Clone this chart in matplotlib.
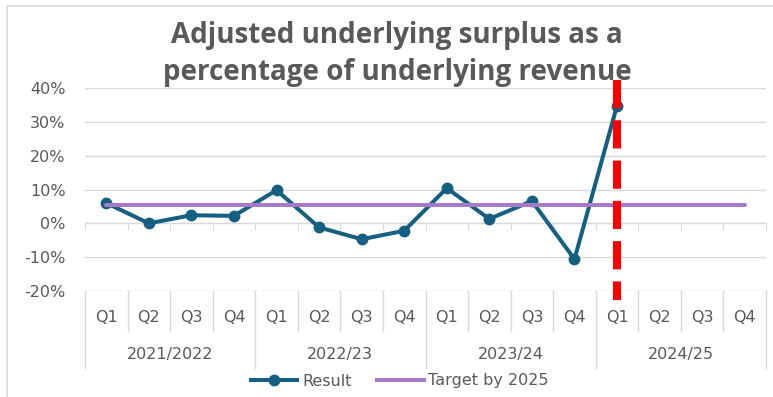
import matplotlib
matplotlib.use("Agg")
import matplotlib.pyplot as plt
from matplotlib.lines import Line2D
from matplotlib.patches import Rectangle
import matplotlib.transforms as mtransforms

# quarterly results, as fractions of underlying revenue
years = ["2021/2022", "2022/23", "2023/24", "2024/25"]
quarters = ["Q1", "Q2", "Q3", "Q4"]
result = [0.06, 0.0, 0.024, 0.022,
          0.098, -0.012, -0.047, -0.022,
          0.104, 0.013, 0.066, -0.106,
          0.348]
target = 0.053
yticks = [-0.2, -0.1, 0.0, 0.1, 0.2, 0.3, 0.4]
# dashed marker at the start of 2024/25
marker_idx = 12
marker_span = (0.425, -0.226)

text_col = "#595959"
grid_col = "#D9D9D9"
plt.rcParams['font.family'] = ['DejaVu Sans']

W, H = 773, 397
fig = plt.figure(figsize=(W / 100, H / 100), dpi=100)
ax = fig.add_axes([85 / W, (H - 291) / H, (766 - 85) / W, (291 - 88) / H])

labels = [q for y in years for q in quarters]
n = len(labels)
x = list(range(n))

ax.plot(x[:len(result)], result, color="#156082", lw=2.9, marker="o",
        ms=7.5, zorder=3, clip_on=False)
ax.plot(x, [target] * n, color="#A57BC8", lw=2.9, zorder=4,
        solid_capstyle="round")
ax.plot([marker_idx, marker_idx], marker_span, color="#FF0000", lw=5.8,
        dashes=(3.5, 1.5), zorder=5, clip_on=False)

ax.set_xlim(-0.5, n - 0.5)
ax.set_ylim(yticks[0], yticks[-1])
ax.set_yticks(yticks)
ax.set_yticklabels([f"{int(round(v * 100))}%" for v in yticks])
ax.yaxis.grid(True, color=grid_col, lw=1)
ax.set_axisbelow(True)
ax.tick_params(axis="y", length=0, labelsize=11.5, labelcolor=text_col, pad=14)

# category axis sits at zero, labels are drawn underneath the plot
for s in ["left", "right", "top"]:
    ax.spines[s].set_visible(False)
ax.spines["bottom"].set_position(("data", 0))
ax.spines["bottom"].set_color(grid_col)
ax.set_xticks([i - 0.5 for i in range(n + 1)])
ax.tick_params(axis="x", direction="out", length=5, color=grid_col,
               labelbottom=False)

trans = mtransforms.blended_transform_factory(ax.transData, ax.transAxes)
ah = 291 - 88
for i, lab in enumerate(labels):
    ax.text(i, -(317 - 291) / ah, lab, transform=trans, ha="center",
            va="center", fontsize=11.5, color=text_col)
for i in range(n + 1):
    depth = (368 - 291) / ah if i % 4 == 0 else (331 - 291) / ah
    ax.plot([i - 0.5, i - 0.5], [0, -depth], transform=trans, color=grid_col,
            lw=1, clip_on=False)
for j, yr in enumerate(years):
    ax.text(j * 4 + 1.5, -(354 - 291) / ah, yr, transform=trans, ha="center",
            va="center", fontsize=11.5, color=text_col)

fig.text(397 / W, 1 - 54 / H,
         "Adjusted underlying surplus as a\npercentage of underlying revenue",
         ha="center", va="center", fontsize=20, fontweight="bold",
         family="Open Sans", color=text_col, linespacing=1.32)

handles = [Line2D([], [], color="#156082", lw=2.9, marker="o", ms=7.5),
           Line2D([], [], color="#A57BC8", lw=2.9)]
fig.legend(handles, ["Result", "Target by 2025"], loc="center",
           bbox_to_anchor=(400 / W, 1 - 381 / H), ncol=2, frameon=False,
           fontsize=11.5, handlelength=2.9, handletextpad=0.3,
           columnspacing=1.6, labelcolor=text_col)

fig.add_artist(Rectangle((7 / W, -0.05), 1.1, 1 - 6 / H + 0.05,
                         transform=fig.transFigure, fill=False,
                         edgecolor=grid_col, lw=1.2))

fig.savefig("out.png", dpi=100)
